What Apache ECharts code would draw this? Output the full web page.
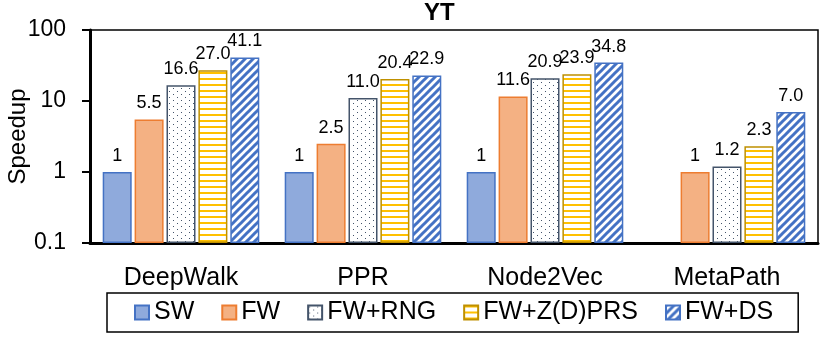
<!DOCTYPE html>
<html>
<head>
<meta charset="utf-8">
<script src="https://cdn.jsdelivr.net/npm/echarts@6/dist/echarts.min.js"></script>
<style>
  html, body { margin: 0; padding: 0; background: #fff; }
  #chart { width: 830px; height: 344px; }
</style>
</head>
<body>
<div id="chart"></div>
<script>
const categories = ["DeepWalk", "PPR", "Node2Vec", "MetaPath"];
const seriesNames = ["SW", "FW", "FW+RNG", "FW+Z(D)PRS", "FW+DS"];
const swData = [1, 1, 1, null];
const fwData = [5.5, 2.5, 11.6, 1];
const rngData = [16.6, 11.0, 20.9, 1.2];
const zprsData = [27.0, 20.4, 23.9, 2.3];
const dsData = [41.1, 22.9, 34.8, 7.0];

const FONT = "'Liberation Sans', Arial, sans-serif";

// small canvas tiles for the hatched bars
function makeTile(w, h, draw) {
    const c = document.createElement("canvas");
    c.width = w;
    c.height = h;
    const ctx = c.getContext("2d");
    ctx.fillStyle = "#fff";
    ctx.fillRect(0, 0, w, h);
    draw(ctx);
    return { image: c, repeat: "repeat" };
}
const dots = makeTile(8, 6, (ctx) => {
    ctx.fillStyle = "#44546a";
    ctx.fillRect(1, 1, 1, 1);
    ctx.fillRect(5, 4, 1, 1);
});
const hlines = makeTile(6, 6, (ctx) => {
    ctx.fillStyle = "#ffc000";
    ctx.fillRect(0, 0, 6, 2);
});
const diag = makeTile(8, 8, (ctx) => {
    ctx.strokeStyle = "#4472c4";
    ctx.lineWidth = 3;
    ctx.beginPath();
    ctx.moveTo(-2, 10); ctx.lineTo(10, -2);
    ctx.moveTo(-6, 6); ctx.lineTo(6, -6);
    ctx.moveTo(2, 14); ctx.lineTo(14, 2);
    ctx.stroke();
});

const styles = [
    { color: "#8faadc", borderColor: "#4472c4" },
    { color: "#f4b183", borderColor: "#ed7d31" },
    { color: dots, borderColor: "#44546a" },
    { color: hlines, borderColor: "#bf9000" },
    { color: diag, borderColor: "#4472c4" }
];
const allData = [swData, fwData, rngData, zprsData, dsData];

const chart = echarts.init(document.getElementById("chart"), null, { renderer: "canvas" });
chart.setOption({
    animation: false,
    backgroundColor: "#fff",
    textStyle: { fontFamily: FONT },
    title: {
        text: "YT",
        left: 424,
        top: 1,
        padding: 0,
        textStyle: { fontFamily: FONT, fontSize: 24, fontWeight: "bold", color: "#000" }
    },
    grid: {
        left: 90,
        right: 12,
        top: 30,
        bottom: 101,
        containLabel: false,
        outerBoundsMode: "none",
        show: true,
        borderColor: "#000",
        borderWidth: 1.5
    },
    legend: {
        data: seriesNames,
        left: 107,
        top: 293,
        padding: [7, 25, 7, 27],
        borderColor: "#000",
        borderWidth: 1.5,
        itemWidth: 14,
        itemHeight: 14,
        itemGap: 27,
        icon: "rect",
        textStyle: { fontFamily: FONT, fontSize: 25, color: "#000" }
    },
    xAxis: {
        type: "category",
        data: categories,
        axisLine: { lineStyle: { color: "#000", width: 3 } },
        axisTick: { show: false },
        axisLabel: { fontFamily: FONT, fontSize: 25, color: "#000", margin: 23 }
    },
    yAxis: {
        type: "log",
        logBase: 10,
        min: 0.1,
        max: 100,
        startValue: 0.1,
        name: "Speedup",
        nameLocation: "middle",
        nameGap: 60,
        nameMoveOverlap: false,
        nameTextStyle: { fontFamily: FONT, fontSize: 24, color: "#000" },
        axisLine: { show: true, lineStyle: { color: "#000", width: 3 } },
        axisTick: { show: true, length: 8, lineStyle: { color: "#000", width: 2 } },
        axisLabel: { fontFamily: FONT, fontSize: 23, color: "#000", margin: 24 },
        splitLine: { show: false },
        minorTick: { show: false }
    },
    series: seriesNames.map((name, i) => ({
        name: name,
        type: "bar",
        data: allData[i],
        barWidth: 29,
        barGap: "10%",
        itemStyle: Object.assign({ borderWidth: 1.5 }, styles[i]),
        label: {
            show: true,
            position: "top",
            distance: 7,
            fontFamily: FONT,
            fontSize: 18,
            color: "#000",
            formatter: (p) => (p.value === 1 ? "1" : Number(p.value).toFixed(1))
        }
    }))
});
</script>
</body>
</html>
